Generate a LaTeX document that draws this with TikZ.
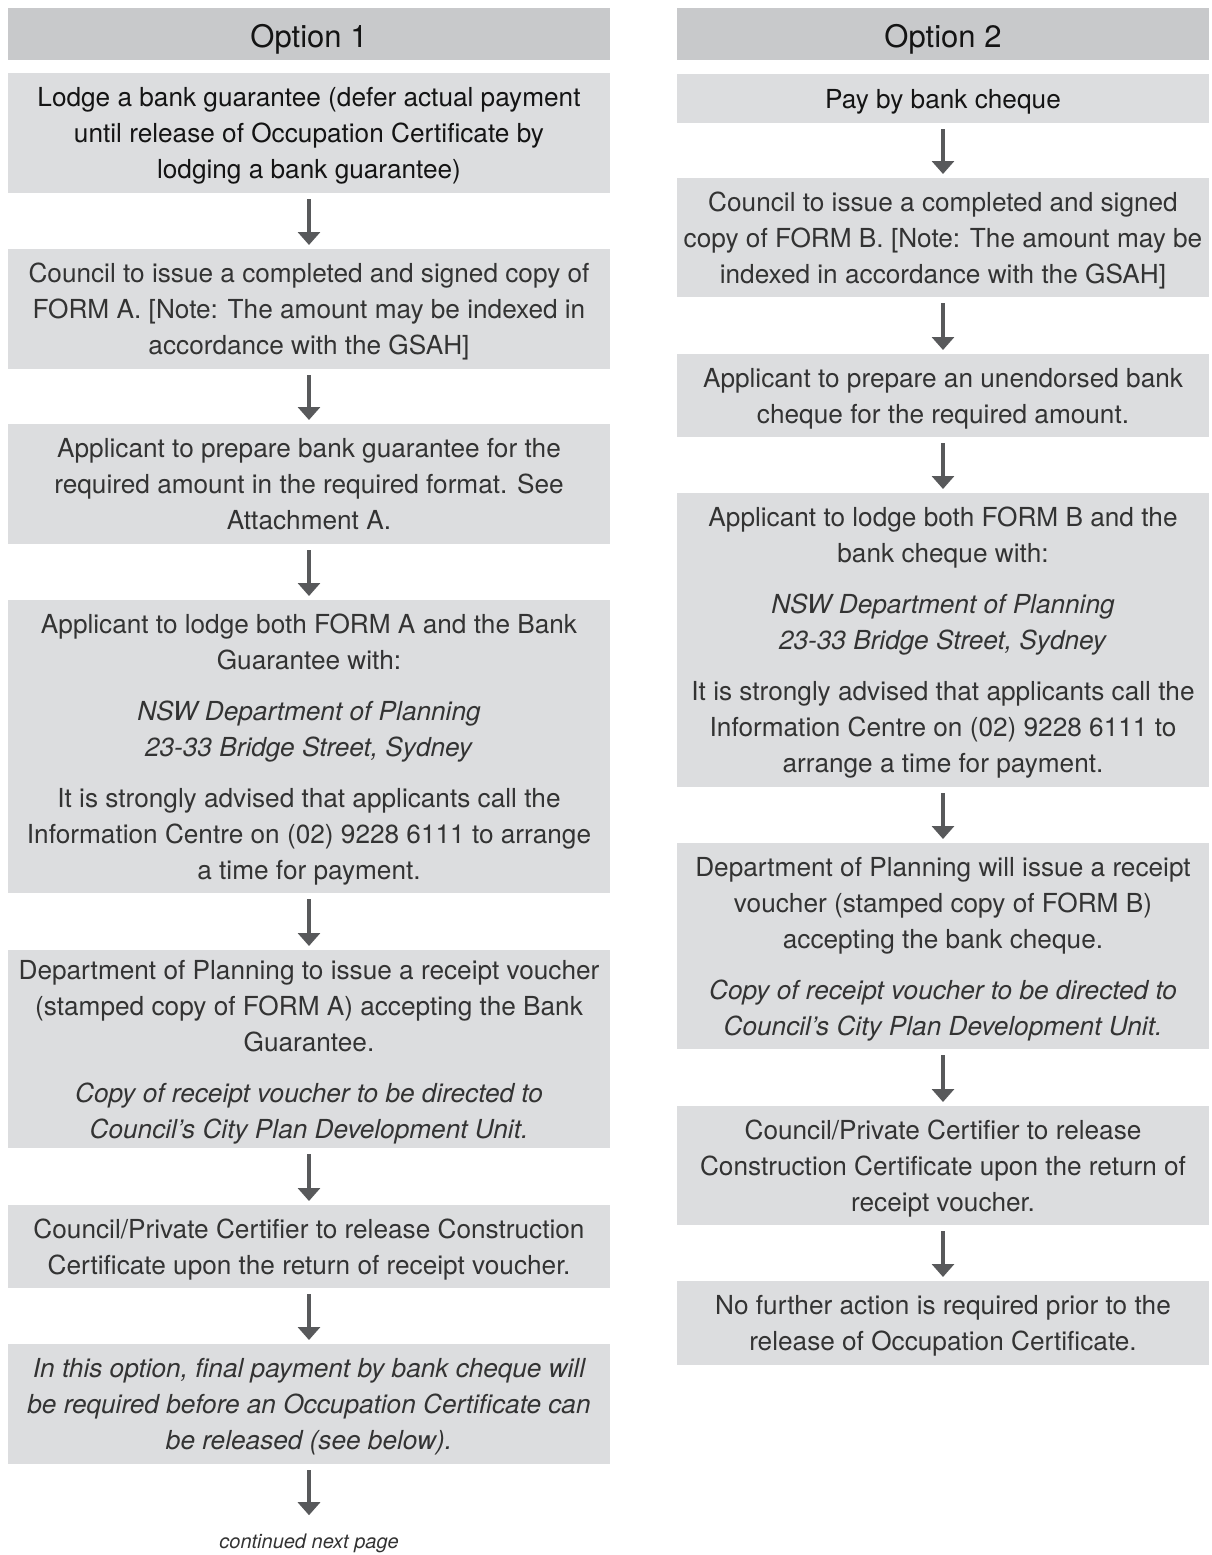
\documentclass[tikz,border=0pt]{standalone}
\usepackage{fontspec}
\setmainfont{TeX Gyre Heros}
\usetikzlibrary{arrows.meta}
\definecolor{headgray}{HTML}{C8C9CB}
\definecolor{boxgray}{HTML}{DCDDDF}
\definecolor{arrowgray}{HTML}{58595B}
\definecolor{txtgray}{HTML}{333333}
\definecolor{titletxt}{HTML}{141414}
\tikzset{
  box/.style={fill=boxgray, inner sep=0pt, anchor=north, align=center,
    text=txtgray, font=\fontsize{26.2}{36}\selectfont, text depth=-4pt},
  headbox/.style={box, fill=headgray, text=titletxt, font=\fontsize{31}{36}\selectfont,
    text depth=6.5pt, execute at begin node=\rule{0pt}{33pt}},
  leftcol/.style={minimum width=602pt},
  rightcol/.style={minimum width=532pt},
  flow/.style={draw=arrowgray, line width=4.5pt, -{Triangle[width=22pt,length=13pt]}},
}
\begin{document}
\begin{tikzpicture}[x=1pt,y=-1pt]
  \useasboundingbox (0,0) rectangle (1211,1555);
  % Option 1
  \node[headbox, leftcol, minimum height=52pt] (opt1) at (309,8) {Option 1};
  \node[box, leftcol, minimum height=120pt, text=titletxt] (guar) at (309,73)
    {Lodge a bank guarantee (defer actual payment\\until release of Occupation Certificate by\\lodging a bank guarantee)};
  \node[box, leftcol, minimum height=120pt] (formA) at (309,249)
    {Council to issue a completed and signed copy of\\FORM A. [Note: The amount may be indexed in\\accordance with the GSAH]};
  \node[box, leftcol, minimum height=120pt] (prepA) at (309,424)
    {Applicant to prepare bank guarantee for the\\required amount in the required format. See\\Attachment A.};
  \node[box, leftcol, minimum height=293pt] (lodgeA) at (309,600)
    {Applicant to lodge both FORM A and the Bank\\Guarantee with:\\[15pt]\textit{NSW Department of Planning}\\\textit{23-33 Bridge Street, Sydney}\\[15pt]It is strongly advised that applicants call the\\Information Centre on (02) 9228 6111 to arrange\\a time for payment.};
  \node[box, leftcol, minimum height=198pt] (receiptA) at (309,950)
    {Department of Planning to issue a receipt voucher\\(stamped copy of FORM A) accepting the Bank\\Guarantee.\\[15pt]\textit{Copy of receipt voucher to be directed to}\\\textit{Council's City Plan Development Unit.}};
  \node[box, leftcol, minimum height=83pt] (releaseA) at (309,1205)
    {Council/Private Certifier to release Construction\\Certificate upon the return of receipt voucher.};
  \node[box, leftcol, minimum height=120pt] (finalA) at (309,1344)
    {\itshape In this option, final payment by bank cheque will\\\itshape be required before an Occupation Certificate can\\\itshape be released (see below).};
  \node[inner sep=0pt, anchor=base, text=txtgray, font=\fontsize{20}{24}\selectfont\itshape] (cont) at (309,1548) {continued next page};

  % Option 2
  \node[headbox, rightcol, minimum height=52pt] (opt2) at (943,8) {Option 2};
  \node[box, rightcol, minimum height=49pt, text=titletxt] (cheque) at (943,74) {Pay by bank cheque};
  \node[box, rightcol, minimum height=119pt] (formB) at (943,178)
    {Council to issue a completed and signed\\copy of FORM B. [Note: The amount may be\\indexed in accordance with the GSAH]};
  \node[box, rightcol, minimum height=83pt] (prepB) at (943,354)
    {Applicant to prepare an unendorsed bank\\cheque for the required amount.};
  \node[box, rightcol, minimum height=294pt] (lodgeB) at (943,493)
    {Applicant to lodge both FORM B and the\\bank cheque with:\\[15pt]\textit{NSW Department of Planning}\\\textit{23-33 Bridge Street, Sydney}\\[15pt]It is strongly advised that applicants call the\\Information Centre on (02) 9228 6111 to\\arrange a time for payment.};
  \node[box, rightcol, minimum height=206pt] (receiptB) at (943,843)
    {Department of Planning will issue a receipt\\voucher (stamped copy of FORM B)\\accepting the bank cheque.\\[15pt]\textit{Copy of receipt voucher to be directed to}\\\textit{Council's City Plan Development Unit.}};
  \node[box, rightcol, minimum height=119pt] (releaseB) at (943,1106)
    {Council/Private Certifier to release\\Construction Certificate upon the return of\\receipt voucher.};
  \node[box, rightcol, minimum height=84pt] (noneB) at (943,1281)
    {No further action is required prior to the\\release of Occupation Certificate.};

  % arrows
  \draw[flow] ([yshift=-6pt]guar.south) -- ([yshift=4pt]formA.north);
  \draw[flow] ([yshift=-6pt]formA.south) -- ([yshift=4pt]prepA.north);
  \draw[flow] ([yshift=-6pt]prepA.south) -- ([yshift=4pt]lodgeA.north);
  \draw[flow] ([yshift=-6pt]lodgeA.south) -- ([yshift=4pt]receiptA.north);
  \draw[flow] ([yshift=-6pt]receiptA.south) -- ([yshift=4pt]releaseA.north);
  \draw[flow] ([yshift=-6pt]releaseA.south) -- ([yshift=4pt]finalA.north);
  \draw[flow] ([yshift=-6pt]finalA.south) -- ([yshift=18pt]cont.north);
  \draw[flow] ([yshift=-6pt]cheque.south) -- ([yshift=4pt]formB.north);
  \draw[flow] ([yshift=-6pt]formB.south) -- ([yshift=4pt]prepB.north);
  \draw[flow] ([yshift=-6pt]prepB.south) -- ([yshift=4pt]lodgeB.north);
  \draw[flow] ([yshift=-6pt]lodgeB.south) -- ([yshift=4pt]receiptB.north);
  \draw[flow] ([yshift=-6pt]receiptB.south) -- ([yshift=4pt]releaseB.north);
  \draw[flow] ([yshift=-6pt]releaseB.south) -- ([yshift=4pt]noneB.north);
\end{tikzpicture}
\end{document}
